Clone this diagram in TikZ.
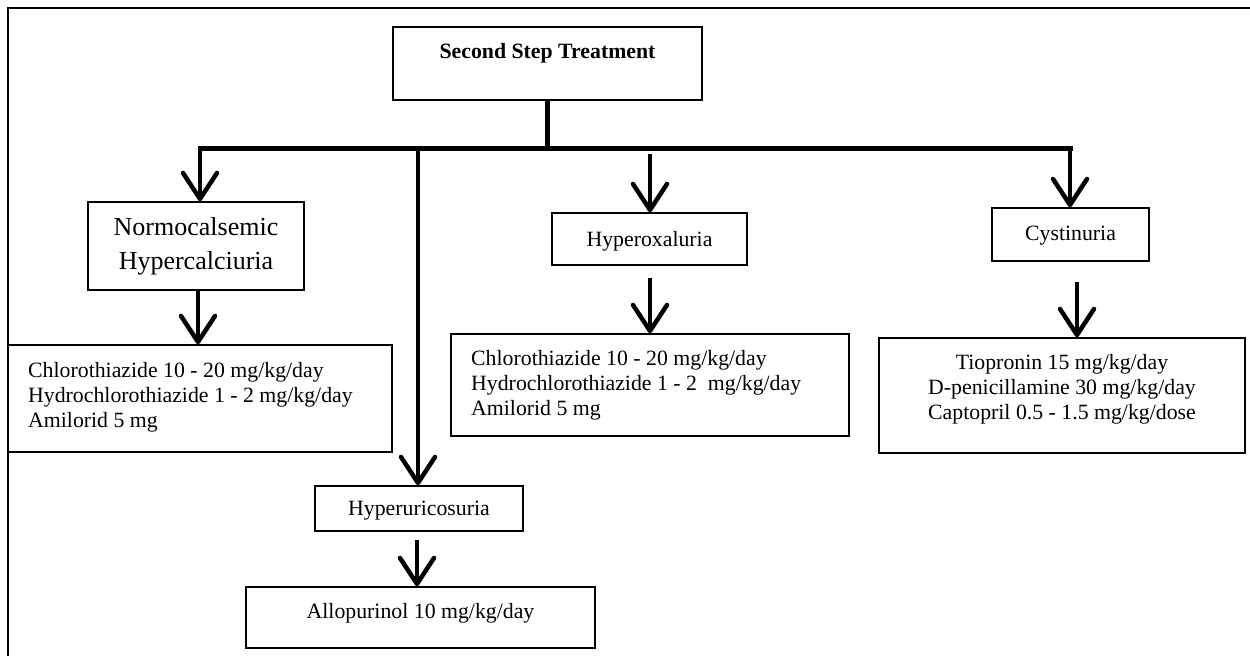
\documentclass[tikz,border=0pt]{standalone}
\usepackage{fontspec}
\setmainfont{Liberation Serif}
\usetikzlibrary{arrows.meta,calc}
\begin{document}
\begin{tikzpicture}[x=1pt,y=-1pt,
  box/.style={draw,line width=1.6pt,inner sep=0pt},
  txt/.style={inner sep=0pt,font=\fontsize{21.8}{25}\selectfont},
  bigtxt/.style={inner sep=0pt,font=\fontsize{26}{34}\selectfont,align=center},
  barline/.style={line width=5pt},
  arr/.style={line width=4.5pt,-{Straight Barb[length=26pt,width=34pt,round]}},
  frame/.style={line width=1.8pt}]
\useasboundingbox (0,0) rectangle (1250,656);
\coordinate (f1) at (8,656);
\coordinate (f2) at (8,8);
\coordinate (f3) at (1250,8);
\draw[frame] (f1) -- (f2) -- (f3);

% boxes
\node[box,minimum width=309pt,minimum height=73pt] (title) at (547.5,63.5) {};
\node[txt,font=\fontsize{21.8}{25}\selectfont\bfseries] (titletext) at (547.5,53) {Second Step Treatment};

\node[box,minimum width=216pt,minimum height=88pt] (normo) at (196,246) {};
\node[bigtxt] (normotext) at (196,246) {Normocalsemic\\Hypercalciuria};

\node[box,minimum width=384pt,minimum height=107pt] (b1) at (200,398.5) {};
\node[txt,align=left,anchor=west] (b1text) at (28,397) {Chlorothiazide 10 - 20 mg/kg/day\\Hydrochlorothiazide 1 - 2 mg/kg/day\\Amilorid 5 mg};

\node[box,minimum width=195pt,minimum height=52pt] (oxal) at (649.5,239) {};
\node[txt] (oxaltext) at (649.5,241) {Hyperoxaluria};

\node[box,minimum width=398pt,minimum height=102pt] (b2) at (650,385) {};
\node[txt,align=left,anchor=west] (b2text) at (471,385) {Chlorothiazide 10 - 20 mg/kg/day\\Hydrochlorothiazide 1 - 2 \ mg/kg/day\\Amilorid 5 mg};

\node[box,minimum width=157pt,minimum height=53pt] (cyst) at (1070.5,234.5) {};
\node[txt] (cysttext) at (1070.5,236) {Cystinuria};

\node[box,minimum width=366pt,minimum height=115pt] (b3) at (1062,395.5) {};
\node[txt,align=center] (b3text) at (1062,389) {Tiopronin 15 mg/kg/day\\D-penicillamine 30 mg/kg/day\\Captopril 0.5 - 1.5 mg/kg/dose};

\node[box,minimum width=208pt,minimum height=45pt] (uric) at (419,508.5) {};
\node[txt] (urictext) at (419,511) {Hyperuricosuria};

\node[box,minimum width=349pt,minimum height=61pt] (allo) at (420.5,617.5) {};
\node[txt] (allotext) at (420.5,613) {Allopurinol 10 mg/kg/day};

% connectors
\coordinate (bS) at (547.5,148);
\coordinate (bL) at (200,148);
\coordinate (bR) at (1070,148);
\coordinate (bU) at (418,148);
\coordinate (bO) at (650,154);
\draw[barline] (title.south) -- (bS);
\draw[barline,line cap=rect] (bL) -- (bR);
\draw[arr] (bL) -- (bL |- normo.north);
\draw[arr] (bU) -- (bU |- uric.north);
\draw[arr] (bO) -- (bO |- oxal.north);
\draw[arr] (bR) -- (bR |- cyst.north);

\coordinate (n2) at (198,290);
\coordinate (o2) at (650,278);
\coordinate (c2) at (1077,282);
\coordinate (u2) at (417,540);
\draw[arr] (n2) -- (n2 |- b1.north);
\draw[arr] (o2) -- (o2 |- b2.north);
\draw[arr] (c2) -- (c2 |- b3.north);
\draw[arr] (u2) -- (u2 |- allo.north);
\end{tikzpicture}
\end{document}
